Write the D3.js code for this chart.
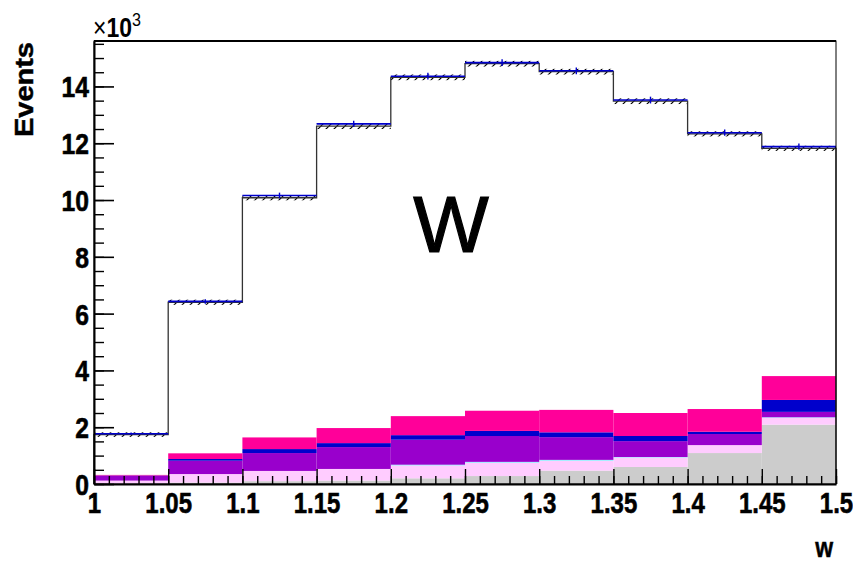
<!DOCTYPE html>
<html>
<head>
<meta charset="utf-8">
<script src="https://cdn.jsdelivr.net/npm/d3@7"></script>
<style>
  body { margin: 0; background: #fff; }
  svg { display: block; }
  svg text { font-family: "Liberation Sans", Arial, Helvetica, sans-serif; }
</style>
</head>
<body>
<div id="chart"></div>
<script>
// bin edges of w and the tick labels
const binEdges = [1, 1.05, 1.1, 1.15, 1.2, 1.25, 1.3, 1.35, 1.4, 1.45, 1.5];
const xTicks = [1, 1.05, 1.1, 1.15, 1.2, 1.25, 1.3, 1.35, 1.4, 1.45, 1.5];
const xTickLabels = ["1", "1.05", "1.1", "1.15", "1.2", "1.25", "1.3", "1.35", "1.4", "1.45", "1.5"];
const yTicks = [0, 2, 4, 6, 8, 10, 12, 14];
const yTickLabels = ["0", "2", "4", "6", "8", "10", "12", "14"];

// events (x10^3) per bin
const mcTotal = [1.74, 6.40, 10.08, 12.60, 14.32, 14.80, 14.52, 13.48, 12.33, 11.82];
const mcErr   = [0.08, 0.09, 0.09, 0.10, 0.10, 0.10, 0.10, 0.10, 0.09, 0.09];
const dataVal = [1.77, 6.43, 10.16, 12.68, 14.36, 14.84, 14.55, 13.52, 12.37, 11.88];
const dataErr = [0.04, 0.08, 0.10, 0.11, 0.12, 0.12, 0.12, 0.12, 0.11, 0.11];

// background components, bottom to top
const bkgGray    = [0.02, 0.05, 0.10, 0.12, 0.20, 0.28, 0.47, 0.60, 1.09, 2.09];
const bkgPink    = [0.10, 0.30, 0.36, 0.41, 0.46, 0.48, 0.36, 0.34, 0.28, 0.25];
const bkgCyan    = [0.00, 0.00, 0.00, 0.00, 0.02, 0.02, 0.02, 0.01, 0.00, 0.01];
const bkgPurple  = [0.17, 0.47, 0.63, 0.77, 0.88, 0.91, 0.80, 0.56, 0.39, 0.19];
const bkgBlue    = [0.01, 0.06, 0.14, 0.14, 0.16, 0.18, 0.17, 0.18, 0.08, 0.42];
const bkgMagenta = [0.02, 0.20, 0.41, 0.53, 0.67, 0.71, 0.79, 0.81, 0.80, 0.84];

const layerKeys = ["gray", "pink", "cyan", "purple", "blue", "magenta"];
const layerColors = {gray: "#cccccc", pink: "#ffccff", cyan: "#33ffff", purple: "#9900cc", blue: "#0000cc", magenta: "#ff0099"};

let W = 853, H = 561;
let margin = {top: 41, right: 17, bottom: 77, left: 94},
  width = W - margin.left - margin.right,
  height = H - margin.top - margin.bottom;

let x = d3.scaleLinear().domain([1, 1.5]).range([0, width]);
let y = d3.scaleLinear().domain([0, 15.6]).range([height, 0]);

let svg = d3.select("#chart").append("svg")
  .attr("width", W)
  .attr("height", H);

// hatch pattern for the MC error band
let defs = svg.append("defs");
let pat = defs.append("pattern")
  .attr("id", "hatch")
  .attr("patternUnits", "userSpaceOnUse")
  .attr("width", 8).attr("height", 8);
pat.append("path")
  .attr("d", "M0,8 L8,0 M-2,2 L2,-2 M6,10 L10,6")
  .attr("stroke", "#000").attr("stroke-width", 1.2);

let g = svg.append("g")
  .attr("transform", "translate(" + margin.left + "," + margin.top + ")");

// table for the stack
let bins = mcTotal.map((v, i) => ({
  x0: binEdges[i], x1: binEdges[i + 1],
  gray: bkgGray[i], pink: bkgPink[i], cyan: bkgCyan[i],
  purple: bkgPurple[i], blue: bkgBlue[i], magenta: bkgMagenta[i]
}));

let series = d3.stack().keys(layerKeys)(bins);

series.forEach(s => {
  g.append("g")
    .selectAll("rect")
    .data(s)
    .enter().append("rect")
    .attr("x", d => x(d.data.x0))
    .attr("width", d => x(d.data.x1) - x(d.data.x0))
    .attr("y", d => y(d[1]))
    .attr("height", d => Math.max(0, y(d[0]) - y(d[1])))
    .attr("fill", layerColors[s.key]);
});

// MC error band (hatched)
g.append("g")
  .selectAll("rect")
  .data(mcTotal)
  .enter().append("rect")
  .attr("x", (d, i) => x(binEdges[i]))
  .attr("width", (d, i) => x(binEdges[i + 1]) - x(binEdges[i]))
  .attr("y", (d, i) => y(d + mcErr[i]))
  .attr("height", (d, i) => y(d - mcErr[i]) - y(d + mcErr[i]))
  .attr("fill", "url(#hatch)");

// MC total as a step histogram
let stepPts = [[binEdges[0], 0]];
mcTotal.forEach((v, i) => { stepPts.push([binEdges[i], v]); });
stepPts.push([binEdges[binEdges.length - 1], mcTotal[mcTotal.length - 1]]);
stepPts.push([binEdges[binEdges.length - 1], 0]);

let line = d3.line()
  .x(d => x(d[0]))
  .y(d => y(d[1]))
  .curve(d3.curveStepAfter);

g.append("path")
  .datum(stepPts)
  .attr("d", line)
  .attr("fill", "none")
  .attr("stroke", "#333")
  .attr("stroke-width", 1.3);

// data: horizontal bin bar + vertical error
let dataG = g.append("g").attr("stroke", "#0000cc");
dataVal.forEach((v, i) => {
  let xm = (binEdges[i] + binEdges[i + 1]) / 2;
  dataG.append("line")
    .attr("x1", x(binEdges[i])).attr("x2", x(binEdges[i + 1]))
    .attr("y1", y(v)).attr("y2", y(v))
    .attr("stroke-width", 1.6);
  dataG.append("line")
    .attr("x1", x(xm)).attr("x2", x(xm))
    .attr("y1", y(v - dataErr[i])).attr("y2", y(v + dataErr[i]))
    .attr("stroke-width", 1.4);
});

// frame
g.append("rect")
  .attr("width", width).attr("height", height)
  .attr("fill", "none").attr("stroke", "#000").attr("stroke-width", 1);
g.append("line")
  .attr("x1", 0).attr("x2", width).attr("y1", 0).attr("y2", 0)
  .attr("stroke", "#000").attr("stroke-width", 2);

// x axis: minor ticks then major ticks with labels
g.append("g")
  .attr("transform", "translate(0," + height + ")")
  .call(d3.axisBottom(x).tickValues(d3.range(0, 51).map(k => 1 + k * 0.01)).tickSize(-8).tickSizeOuter(0).tickFormat(""))
  .call(a => a.select(".domain").remove())
  .selectAll("line").attr("stroke", "#000").attr("stroke-width", 1.4);

let xAxis = g.append("g")
  .attr("transform", "translate(0," + height + ")")
  .call(d3.axisBottom(x).tickValues(xTicks).tickSize(-15).tickSizeOuter(0)
    .tickFormat((d, i) => xTickLabels[i]));
xAxis.attr("font-family", null).attr("font-size", null);
xAxis.select(".domain").attr("stroke", "#000").attr("stroke-width", 2);
xAxis.selectAll(".tick line").attr("stroke", "#000").attr("stroke-width", 1.4);
xAxis.selectAll("text")
  .attr("y", 29).attr("dy", 0)
  .attr("transform", "scale(0.8,1)")
  .style("font-size", "30px").style("font-weight", "bold")
  .attr("fill", "#000").attr("stroke", "#000").attr("stroke-width", 0.6);

// y axis
g.append("g")
  .call(d3.axisLeft(y).tickValues(d3.range(0, 32).map(k => k * 0.5)).tickSize(-10).tickSizeOuter(0).tickFormat(""))
  .call(a => a.select(".domain").remove())
  .selectAll("line").attr("stroke", "#000").attr("stroke-width", 1.4);

let yAxis = g.append("g")
  .call(d3.axisLeft(y).tickValues(yTicks).tickSize(-20).tickSizeOuter(0)
    .tickFormat((d, i) => yTickLabels[i]));
yAxis.attr("font-family", null).attr("font-size", null);
yAxis.select(".domain").attr("stroke", "#000").attr("stroke-width", 2);
yAxis.selectAll(".tick line").attr("stroke", "#000").attr("stroke-width", 1.6);
yAxis.selectAll("text")
  .attr("x", -6).attr("dy", "0.36em")
  .attr("transform", "scale(0.85,1)")
  .style("font-size", "29px").style("font-weight", "bold")
  .attr("fill", "#000").attr("stroke", "#000").attr("stroke-width", 0.6);

// labels
svg.append("text")
  .attr("transform", "translate(33,42) rotate(-90) scale(1,0.87)")
  .attr("text-anchor", "end")
  .style("font-size", "29px").style("font-weight", "bold")
  .attr("stroke", "#000").attr("stroke-width", 0.5)
  .text("Events");

svg.append("text")
  .attr("transform", "translate(833,557) scale(0.82,1)")
  .attr("text-anchor", "end")
  .style("font-size", "28px").style("font-weight", "bold")
  .attr("stroke", "#000").attr("stroke-width", 0.5)
  .text("w");

let mult = svg.append("text")
  .attr("transform", "translate(93,37) scale(0.85,1)")
  .style("font-size", "27px");
mult.append("tspan").text("\u00d7");
mult.append("tspan").style("font-weight", "bold").text("10");
mult.append("tspan").attr("dy", -11).style("font-size", "19px").text("3");

svg.append("text")
  .attr("x", 451).attr("y", 252)
  .attr("text-anchor", "middle")
  .style("font-size", "80px")
  .attr("stroke", "#000").attr("stroke-width", 1.2)
  .text("W");
</script>
</body>
</html>
